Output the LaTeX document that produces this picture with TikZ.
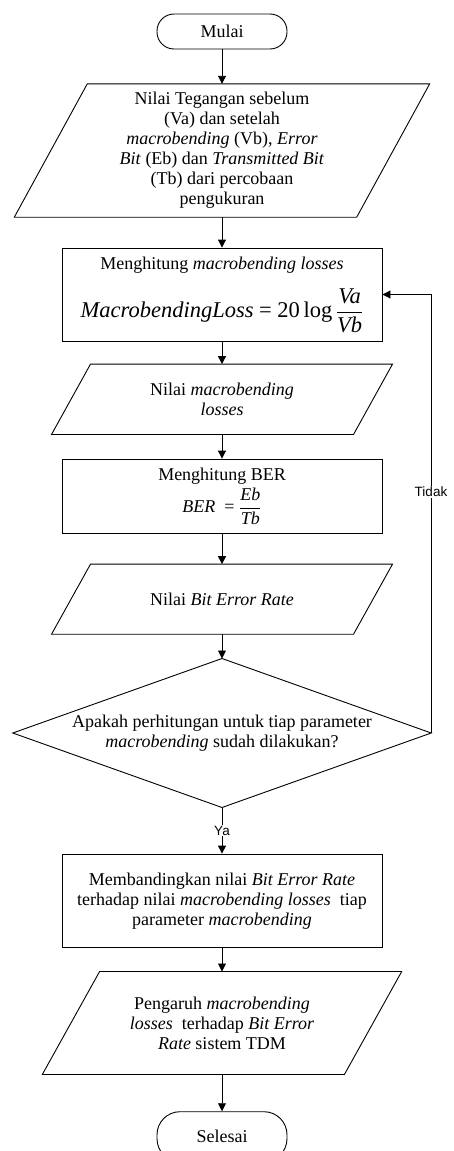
\documentclass[tikz,border=0pt]{standalone}
\usepackage{fontspec}
\setmainfont{Liberation Serif}
\newfontfamily\labelfont{Liberation Sans}
\usetikzlibrary{arrows.meta,calc}
\newcommand\iodraw[2]{\draw[line] (#1.south west) -- ($(#1.north west)+(#2,0)$) -- (#1.north east) -- ($(#1.south east)+(-#2,0)$) -- cycle;}
\begin{document}
\begin{tikzpicture}[x=1pt,y=-1pt,
  line/.style={line width=0.9pt},
  arr/.style={line, -{Triangle[length=8pt,width=8pt]}},
  txt/.style={font=\fontsize{18}{20}\selectfont, align=center, inner sep=0pt},
  term/.style={txt, draw, line, minimum width=130pt, rounded corners=17pt},
  proc/.style={txt, draw, line, minimum width=320pt},
  io/.style={txt},
  lab/.style={font=\labelfont\fontsize{13.5}{15}\selectfont, fill=white, inner sep=1pt}]
\useasboundingbox (0,0) rectangle (453,1151);

\node[term, minimum height=35pt] (start) at (222,31.5) {Mulai};

\node[io, minimum width=415pt, minimum height=133pt] (p1) at (222,150.5)
  {Nilai Tegangan sebelum\\
   (Va) dan setelah\\
   \textit{macrobending} (Vb), \textit{Error}\\
   \textit{Bit} (Eb) dan \textit{Transmitted Bit}\\
   (Tb) dari percobaan\\
   pengukuran};
\iodraw{p1}{73}

\node[proc, minimum height=93pt] (r1) at (222,294.5)
  {\rule{0pt}{8pt}Menghitung \textit{macrobending losses}\\[15pt]
   {\fontsize{22.5}{26}\selectfont\textit{MacrobendingLoss} = 20\,log$\,\displaystyle\frac{\textit{Va}}{\textit{Vb}}$}};

\node[io, minimum width=340.6pt, minimum height=70pt] (p2) at (222,399.3)
  {Nilai \textit{macrobending}\\ \textit{losses}};
\iodraw{p2}{39}

\node[proc, minimum height=74.3pt] (r2) at (222,496.2)
  {Menghitung BER\\[3pt]
   \textit{BER}\ \ = $\displaystyle\frac{\textit{Eb}}{\textit{Tb}}$};

\node[io, minimum width=340.6pt, minimum height=69.7pt] (p3) at (222,599.2)
  {Nilai \textit{Bit Error Rate}};
\iodraw{p3}{39}

\node[txt, minimum width=418pt, minimum height=148.6pt] (d) at (222,733)
  {Apakah perhitungan untuk tiap parameter\\
   \textit{macrobending} sudah dilakukan?};
\draw[line] (d.north) -- (d.east) -- (d.south) -- (d.west) -- cycle;

\node[proc, minimum height=93.3pt] (r3) at (222,900.7)
  {Membandingkan nilai \textit{Bit Error Rate}\\
   terhadap nilai \textit{macrobending losses}\ \ tiap\\
   parameter \textit{macrobending}};

\node[io, minimum width=359pt, minimum height=102.6pt] (p4) at (222,1023)
  {Pengaruh \textit{macrobending}\\
   \textit{losses}\ \ terhadap \textit{Bit Error}\\
   \textit{Rate} sistem TDM};
\iodraw{p4}{57.3}

\node[term, minimum height=50pt, rounded corners=23pt] (end) at (222,1136.7) {Selesai};

\draw[arr] (start) -- (p1);
\draw[arr] (p1) -- (r1);
\draw[arr] (r1) -- (p2);
\draw[arr] (p2) -- (r2);
\draw[arr] (r2) -- (p3);
\draw[arr] (p3) -- (d);
\draw[arr] (d) -- node[lab] (ya) {Ya} (r3);
\draw[arr] (r3) -- (p4);
\draw[arr] (p4) -- (end);
\draw[arr] (d.east) |- (r1.east);
\node[lab] (tidak) at (431,491.7) {Tidak};
\end{tikzpicture}
\end{document}
